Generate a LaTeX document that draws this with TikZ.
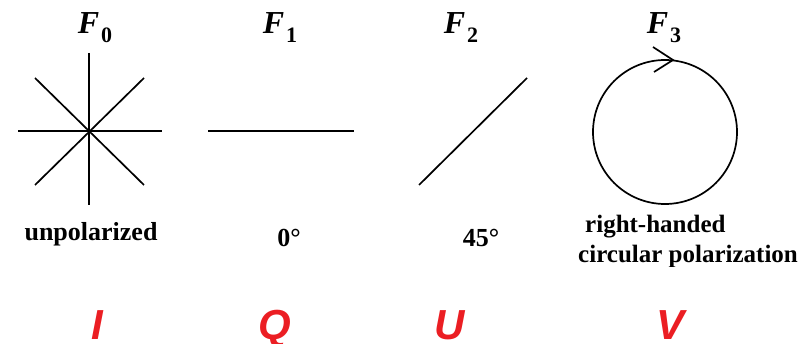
\documentclass[tikz,border=0pt]{standalone}
\usepackage{fontspec}
\setmainfont{Liberation Serif}
\newfontfamily\redfont{Liberation Sans}
\definecolor{stokesred}{RGB}{235,30,35}
\begin{document}
\begin{tikzpicture}[x=1pt,y=-1pt,
  ln/.style={line width=1.7pt,line cap=butt},
  flabel/.style={anchor=base,inner sep=0pt,font=\fontsize{32}{32}\selectfont\bfseries\itshape},
  desc/.style={anchor=base,inner sep=0pt,font=\fontsize{26}{26}\selectfont\bfseries},
  desc2/.style={anchor=base west,inner sep=0pt,font=\fontsize{25}{25}\selectfont\bfseries},
  stokes/.style={anchor=base,inner sep=0pt,text=stokesred,font=\fontsize{42}{42}\redfont\bfseries\itshape}]
\useasboundingbox (0,0) rectangle (808,344);
\newcommand{\fsub}[1]{\kern2pt\raisebox{-9pt}{\fontsize{22}{22}\selectfont\upshape\bfseries #1}}
% headings
\node[flabel] (f0) at (95,34) {F\fsub{0}};
\node[flabel] (f1) at (280,34) {F\fsub{1}};
\node[flabel] (f2) at (461,34) {F\fsub{2}};
\node[flabel] (f3) at (664,34) {F\fsub{3}};
% unpolarized star
\coordinate (c0) at (89,131);
\coordinate (s1) at (89,53);  \coordinate (s2) at (89,205);
\coordinate (s3) at (18,131); \coordinate (s4) at (162,131);
\coordinate (s5) at (35,78);  \coordinate (s6) at (144,185);
\coordinate (s7) at (144,78); \coordinate (s8) at (35,185);
\draw[ln] (s1) -- (s2);
\draw[ln] (s3) -- (s4);
\draw[ln] (s5) -- (s6);
\draw[ln] (s7) -- (s8);
% 0 degrees
\coordinate (h1) at (208,131); \coordinate (h2) at (354,131);
\draw[ln] (h1) -- (h2);
% 45 degrees
\coordinate (d1) at (419,185); \coordinate (d2) at (527,78);
\draw[ln] (d1) -- (d2);
% circle
\coordinate (cc) at (665,132);
\draw[ln] (cc) circle[radius=72];
\coordinate (a1) at (653,47); \coordinate (a2) at (673,60); \coordinate (a3) at (654,72);
\draw[ln,line join=miter] (a1) -- (a2) -- (a3);
% descriptions
\node[desc] (t0) at (91,241) {unpolarized};
\node[desc] (t1) at (289,247) {0°};
\node[desc] (t2) at (481,247) {45°};
\begin{scope}
\clip (560,200) rectangle (808,267);
\node[desc2] (t3a) at (585,233) {right-handed};
\node[desc2] (t3b) at (578,263) {circular polarization};
\end{scope}
% Stokes parameters
\node[stokes] (si) at (97,340) {I};
\node[stokes] (sq) at (275,340) {Q};
\node[stokes] (su) at (450,340) {U};
\node[stokes] (sv) at (670,340) {V};
\end{tikzpicture}
\end{document}
